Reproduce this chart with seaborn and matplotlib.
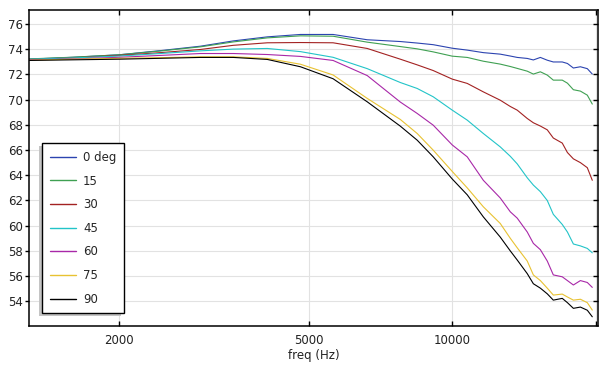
import numpy as np
import pandas as pd
import matplotlib
matplotlib.use("Agg")
import matplotlib.pyplot as plt
import seaborn as sns

# values (SPL vs frequency, per angle)
freq = [1290, 1600, 2000, 2440, 2960, 3470, 4090, 4800, 5620, 6630,
        7780, 8440, 9120, 10000, 10750, 11620, 12610, 13240, 13690, 14370,
        14800, 15310, 15830, 16300, 17020, 17450, 17960, 18580, 19210, 19680]

deg0 = [73.20, 73.35, 73.55, 73.88, 74.23, 74.65, 74.97, 75.16, 75.16, 74.74,
        74.60, 74.48, 74.35, 74.07, 73.92, 73.72, 73.60, 73.45, 73.34, 73.26,
        73.14, 73.34, 73.12, 72.98, 72.98, 72.86, 72.50, 72.60, 72.45, 72.02]
deg15 = [73.22, 73.36, 73.55, 73.85, 74.18, 74.57, 74.89, 75.05, 75.02, 74.55,
         74.20, 74.02, 73.78, 73.44, 73.34, 73.04, 72.81, 72.62, 72.47, 72.25,
         72.02, 72.20, 71.94, 71.54, 71.54, 71.30, 70.78, 70.67, 70.35, 69.64]
deg30 = [73.18, 73.30, 73.50, 73.72, 73.97, 74.30, 74.50, 74.52, 74.50, 74.05,
         73.20, 72.75, 72.30, 71.62, 71.28, 70.61, 69.95, 69.45, 69.16, 68.50,
         68.16, 67.90, 67.60, 66.95, 66.55, 65.80, 65.30, 65.00, 64.60, 63.60]
deg45 = [73.20, 73.30, 73.45, 73.65, 73.86, 74.00, 74.05, 73.80, 73.35, 72.45,
         71.35, 70.88, 70.22, 69.16, 68.37, 67.31, 66.25, 65.50, 64.90, 63.80,
         63.22, 62.70, 62.00, 60.90, 60.10, 59.50, 58.55, 58.40, 58.20, 57.85]
deg60 = [73.15, 73.22, 73.35, 73.50, 73.65, 73.65, 73.57, 73.42, 73.10, 71.90,
         69.80, 68.90, 67.97, 66.40, 65.46, 63.60, 62.20, 61.10, 60.60, 59.50,
         58.60, 58.10, 57.20, 56.10, 55.95, 55.65, 55.30, 55.65, 55.50, 55.11]
deg75 = [73.12, 73.20, 73.27, 73.32, 73.39, 73.39, 73.26, 72.80, 71.95, 70.09,
         68.42, 67.31, 65.99, 64.30, 63.00, 61.50, 60.18, 59.00, 58.25, 57.20,
         56.10, 55.65, 55.05, 54.50, 54.58, 54.35, 54.10, 54.17, 53.90, 53.31]
deg90 = [73.10, 73.15, 73.20, 73.27, 73.34, 73.34, 73.18, 72.60, 71.65, 69.82,
         67.89, 66.78, 65.46, 63.70, 62.45, 60.70, 59.10, 58.00, 57.28, 56.20,
         55.40, 55.05, 54.60, 54.10, 54.24, 53.90, 53.45, 53.55, 53.30, 52.78]

labels = ["0 deg", "15", "30", "45", "60", "75", "90"]
colors = ["#2c44b0", "#3fa052", "#a32222", "#22c4c8", "#a828a8", "#e8c232", "#000000"]

xticks = [2000, 5000, 10000, 20000]
xticklabels = ["2000", "5000", "10000", ""]
yticks = list(range(54, 77, 2))

# long format for seaborn
series = [deg0, deg15, deg30, deg45, deg60, deg75, deg90]
df = pd.concat([pd.DataFrame({"freq": freq, "spl": s, "angle": lab})
                for s, lab in zip(series, labels)], ignore_index=True)

sns.set_style("white")
plt.rcParams["font.family"] = ["DejaVu Sans"]
plt.rcParams["font.size"] = 8.5

fig = plt.figure(figsize=(6.03, 3.66), dpi=100)
ax = fig.add_axes([0.0489, 0.1093, 0.9428, 0.8634])
ax.set_xscale("log")

sns.lineplot(data=df, x="freq", y="spl", hue="angle", palette=colors,
             hue_order=labels, errorbar=None, linewidth=0.8, ax=ax)

ax.set_xlim(1295, 20230)
ax.set_ylim(52.05, 77.1)
ax.set_xticks(xticks)
ax.set_xticklabels(xticklabels)
ax.xaxis.set_minor_locator(matplotlib.ticker.NullLocator())
ax.set_yticks(yticks)

ax.grid(True, color="#e2e2e2", linewidth=0.8)
ax.set_axisbelow(True)
for sp in ax.spines.values():
    sp.set_color("black")
    sp.set_linewidth(1.1)

ax.tick_params(axis="x", which="major", direction="in", length=3.5, width=1,
               top=True, bottom=True, pad=6, colors="black", labelcolor="#222222")
ax.tick_params(axis="y", which="major", direction="out", length=3, width=1,
               left=True, pad=1.5, colors="black", labelcolor="#222222")
ax.tick_params(axis="y", which="major", right=True)
for t in ax.yaxis.get_ticklines()[1::2]:
    t.set_marker(matplotlib.lines.TICKLEFT)
    t.set_markersize(3.5)

ax.set_xlabel("freq (Hz)", labelpad=1, color="#222222")
ax.set_ylabel("")

leg = ax.legend(loc="lower left", bbox_to_anchor=(0.0225, 0.04), borderaxespad=0,
                frameon=True, fancybox=False, framealpha=1, edgecolor="black",
                handlelength=2.2, handletextpad=0.6, labelspacing=0.9, borderpad=0.65,
                shadow={"ox": -2.2, "oy": -2.2, "facecolor": "#c4c4c4",
                        "edgecolor": "none", "alpha": 1})
leg.get_frame().set_linewidth(1.0)
for line in leg.get_lines():
    line.set_linewidth(1.0)

fig.savefig("out.png", dpi=100)
